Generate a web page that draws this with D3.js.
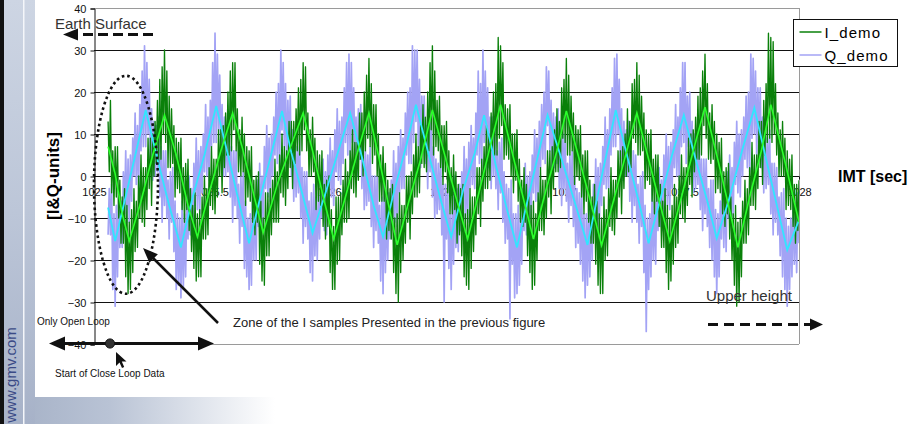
<!DOCTYPE html>
<html>
<head>
<meta charset="utf-8">
<script src="https://cdn.jsdelivr.net/npm/d3@7"></script>
<style>
html, body { margin: 0; padding: 0; background: #fff; }
svg { display: block; font-family: "Liberation Sans", Arial, sans-serif; }
</style>
</head>
<body>
<div id="chart"></div>
<script>
"use strict";

const WIDTH = 916, HEIGHT = 424;

// axis ticks
const X_TICKS = [1025, 1025.5, 1026, 1026.5, 1027, 1027.5, 1028];
const Y_TICKS = [-40, -30, -20, -10, 0, 10, 20, 30, 40];

// raw samples, one every 0.005 s starting at 1025.06
const SAMPLE_START = 1025.06, SAMPLE_STEP = 0.005;

const iDemo = [
  13, 1, 18, -4, 6, -7, 7, -5, 7, -10, -1, -16, -5, -16, -3, -24, -7, -28, -11,
  -27, -8, -23, -3, -18, -6, -17, 0, -10, 5, -11, 2, -12, 2, -8, 9, -3, 9, -7, 10, 0, 13, 3, 18, 3, 23, 4, 26, 10, 30,
  8, 25, 2, 19, 2, 16, 3, 12, -5, 9, -3, 8, -4, 9, -8, 2, -11, 3, -8, 4, -13, -3, -18, -7, -22, -4, -25, -9,
  -24, -8, -24, -5, -15, 0, -15, -3, -14, 2, -7, 7, -8, 4, -9, 4, -5, 11, 0, 11, -4, 12, 2, 15, 5, 20, 5, 25, 6, 27,
  11, 27, 6, 16, 1, 11, 0, 14, 1, 10, -7, 7, -5, 6, -6, 7, -11, -1, -14, 0, -11, 1, -21, -6, -25, -10,
  -26, -4, -19, -4, -19, -3, -14, -1, -11, 4, -11, 1, -11, 5, -4, 10, -5, 7, -7, 6, -3, 13, 2, 13, -3, 13, 3, 16, 6, 21, 5, 23, 6, 27,
  11, 26, 6, 15, 0, 11, 0, 14, 1, 9, -8, 6, -6, 5, -7, 6, -12, -2, -15, -1, -12, 0, -23, -8, -27, -12,
  -27, -5, -21, -5, -20, -4, -14, -1, -11, 4, -11, 1, -10, 6, -3, 11, -4, 8, -5, 8, -1, 15, 4, 15, 0, 20, 6, 24, 9, 28,
  7, 22, 3, 17, 5, 17, 0, 10, -6, 5, -6, 7, -6, 3, -15, -1, -13, -3, -15, -2, -23, -10, -28, -9,
  -30, -4, -23, -7, -20, -7, -16, 0, -11, 0, -15, 1, -9, 5, -5, 10, -5, 7, -4, 12, 3, 17, 2, 14, 1, 20, 6, 27, 11, 31,
  5, 25, 7, 18, 6, 19, 2, 12, -2, 12, 1, 13, -4, 6, -9, 2, -9, 5, -8, 1, -16, -2, -14, -3, -19, -2, -24, -9, -26, -8,
  -27, -3, -22, -5, -18, -5, -14, 2, -9, 2, -12, 4, -6, 7, -3, 12, -3, 10, -1, 15, 6, 20, 5, 22, 5, 33, 9, 31,
  12, 27, 4, 17, 5, 16, 4, 17, 0, 10, -4, 10, -1, 11, -6, 4, -11, -1, -12, 2, -11, -2, -19, -5, -23, -7, -27, -6,
  -26, -9, -20, -4, -13, 2, -13, -1, -14, -1, -10, 6, -5, 6, -9, 7, -3, 11, 1, 16, 1, 13, 2, 21, 9, 23, 8, 28,
  5, 24, 5, 19, 6, 15, -2, 12, 0, 11, -1, 12, -5, 5, -9, 6, -6, 6, -11, -1, -16, -5, -16, -2, -21, -6, -26, -9, -28, -10,
  -28, -5, -20, -8, -19, -3, -12, 2, -13, -1, -14, -1, -10, 6, -5, 6, -9, 7, -3, 10, 0, 16, 1, 13, 2, 22, 9, 23, 8, 27,
  5, 24, 5, 19, 6, 15, -3, 11, -1, 10, -2, 11, -6, 4, -9, 5, -6, 5, -12, -2, -17, -6, -17, -3, -23, -7, -27, -10,
  -25, -7, -21, -2, -17, -5, -16, 0, -9, 5, -10, 2, -11, 2, -7, 9, -2, 10, -5, 11, 1, 14, 4, 19, 4, 21, 5, 25, 12, 29,
  9, 22, 4, 15, 3, 17, 4, 13, -4, 10, -3, 8, -4, 9, -9, 1, -12, 2, -9, 3, -15, -5, -20, -9, -26, -7, -31, -11,
  -30, -10, -24, -6, -16, -1, -16, -3, -14, 2, -7, 8, -7, 5, -8, 5, -3, 13, 2, 13, -2, 18, 5, 22, 8, 34, 9, 33,
  8, 32, 10, 22, 5, 15, 0, 11, 0, 13, 0, 9, -8, 6, -7, 4, -8, 5, -12, -2, -16, -2, -13, -1
];

const qDemo = [
  -14, -3, -14, -2, -27, -9, -31,
  -7, -24, -3, -17, -6, -17, 1, -9, 6, -11, 4, -11, 5, -6, 9, 0, 15, -2, 12, -3, 17, 6, 25, 7, 31, 7,
  27, 10, 23, 4, 16, -1, 13, 0, 12, 1, 14, -5, 7, -11, 6, -7, 6, -10, -1, -15, 1, -11, 2, -18, -6, -27, -9, -26, -10, -29,
  -6, -27, -9, -24, -4, -15, 0, -14, -3, -15, 3, -7, 9, -8, 6, -9, 7, -4, 10, 1, 17, 0, 14, -1, 18, 7, 27, 8, 34, 8,
  29, 11, 24, 5, 17, 0, 14, 0, 12, 1, 14, -5, 7, -11, 6, -7, 6, -10, -2, -16, 0, -12, 1, -22, -6, -24, -10, -27,
  -9, -26, -3, -20, -5, -20, -1, -12, 3, -11, 0, -12, 7, -3, 12, -5, 9, -6, 10, 0, 14, 5, 20, 3, 22, 2, 30, 11,
  27, 7, 22, 2, 18, 6, 19, 0, 11, -6, 8, -5, 7, -4, 9, -10, 2, -16, 1, -12, 1, -15, -6, -23, -4, -25,
  -2, -19, -5, -20, -4, -15, -1, -10, 4, -13, 1, -14, 5, -6, 9, -5, 6, -7, 11, 1, 16, -1, 13, -2, 14, 3, 21, 8, 27, 5, 29, 4,
  27, 8, 21, 5, 14, 0, 16, 4, 17, -3, 9, -8, 6, -7, 5, -6, 7, -12, 0, -17, 0, -13, 0, -16, -7, -25, -5, -28,
  -2, -23, -5, -20, -4, -15, -1, -10, 6, -11, 3, -12, 7, -4, 11, -3, 9, -3, 15, 5, 20, 3, 21, 3, 31, 8, 30, 13,
  30, 7, 23, 2, 19, 6, 19, 3, 12, -3, 13, 1, 14, -5, 7, -10, 4, -9, 3, -8, 5, -14, -2, -30, -2, -15, -2, -22, -9, -27,
  -5, -21, 0, -17, -3, -18, -2, -13, 1, -8, 7, -10, 4, -11, 8, -3, 12, -2, 9, -3, 15, 5, 25, 3, 22, 2, 30, 8,
  25, 8, 21, 2, 14, -3, 14, 0, 13, -3, 6, -8, 8, -4, 9, -11, 1, -16, -2, -15, -3, -34, -1, -21, -9, -29, -9, -28,
  -7, -26, -9, -21, -3, -13, 3, -14, 0, -15, 1, -10, 5, -4, 11, -6, 9, -6, 13, 2, 17, 4, 20, 3, 26, 12,
  25, 6, 18, 1, 15, 2, 14, 3, 16, -3, 10, -7, 10, -3, 10, -6, 3, -11, 5, -7, 6, -12, 0, -17, -3, -16, -4, -21, -2, -25, -9, -29, -9, -26,
  -6, -24, -8, -20, -2, -11, 4, -13, 2, -13, 3, -7, 7, -2, 14, -3, 11, -3, 16, 5, 21, 7, 28, 7,
  29, 10, 23, 4, 16, -1, 13, 0, 11, 0, 13, -6, 6, -11, 6, -7, 5, -11, -2, -16, 0, -12, 1, -23, -7, -37, -10, -27,
  -9, -24, -3, -20, -6, -21, -2, -13, 2, -12, -1, -13, 5, -5, 10, -7, 7, -8, 8, -3, 11, 2, 17, 0, 14, -1, 21, 7, 27, 8,
  27, 3, 19, 7, 20, 1, 13, -4, 10, -3, 9, -2, 11, -8, 4, -13, 4, -9, 4, -12, -3, -17, -1, -20, -1, -24, -8, -28,
  -9, -24, -6, -15, 0, -17, -3, -18, 1, -10, 5, -9, 2, -10, 8, -2, 13, -4, 10, -5, 11, 0, 14, 4, 19, 2, 20, 1, 29, 9, 28, 10,
  25, 5, 21, 8, 21, 2, 14, -4, 10, -3, 9, -2, 11, -9, 3, -14, 3, -11, 2, -14, -5, -19, -4, -24, -3, -27, -10, -31,
  -12, -27, -10, -24, -4, -21, -8, -23, -4, -16
];

// smoothed (averaged) traces
const iAvgTime = [
  1025.06, 1025.09, 1025.12, 1025.15, 1025.20, 1025.25, 1025.30, 1025.35, 1025.40, 1025.44,
  1025.49, 1025.54, 1025.59, 1025.63, 1025.68, 1025.72, 1025.78, 1025.84, 1025.89, 1025.93,
  1025.98, 1026.02, 1026.07, 1026.12, 1026.17, 1026.21, 1026.25, 1026.29, 1026.34, 1026.39,
  1026.44, 1026.49, 1026.54, 1026.59, 1026.64, 1026.69, 1026.73, 1026.78, 1026.83, 1026.87,
  1026.92, 1026.97, 1027.01, 1027.06, 1027.11, 1027.16, 1027.21, 1027.26, 1027.31, 1027.36,
  1027.41, 1027.45, 1027.50, 1027.55, 1027.60, 1027.65, 1027.70, 1027.74, 1027.79, 1027.84,
  1027.88, 1027.94, 1028.00
];
const iAvgVal = [
  7, 0.5, -9, -15.5, -6, 5, 14.5, 5, -7, -14.5,
  -4, 6, 15, 7, -4.5, -13.5, -2, 7.5, 15, 6,
  -6, -15, -5, 5.5, 15, 5, -6, -16.4, -6, 4,
  15.7, 5.5, -5, -15, -3.5, 8, 17, 5.5, -6, -15,
  -4, 6, 15.5, 5, -5.5, -16.5, -6, 4.5, 15, 4,
  -7, -15.5, -5, 6, 16.4, 5, -7, -17, -5, 6,
  17, 3.5, -11
];

const qAvgTime = [
  1025.06, 1025.09, 1025.13, 1025.18, 1025.22, 1025.27, 1025.32, 1025.37, 1025.42, 1025.47,
  1025.52, 1025.57, 1025.62, 1025.66, 1025.71, 1025.76, 1025.80, 1025.84, 1025.89, 1025.93,
  1025.98, 1026.04, 1026.09, 1026.14, 1026.19, 1026.23, 1026.28, 1026.33, 1026.37, 1026.42,
  1026.47, 1026.52, 1026.57, 1026.62, 1026.66, 1026.71, 1026.76, 1026.80, 1026.84, 1026.89,
  1026.93, 1026.99, 1027.05, 1027.10, 1027.14, 1027.18, 1027.22, 1027.27, 1027.32, 1027.36,
  1027.41, 1027.46, 1027.51, 1027.56, 1027.61, 1027.65, 1027.70, 1027.76, 1027.81, 1027.86,
  1027.91, 1027.95, 1028.00
];
const qAvgVal = [
  -7.5, -15.5, -6, 6, 15.7, 4, -7, -17, -5, 5,
  16.7, 5, -7, -16, -4.5, 6.5, 15.5, 5.5, -5, -13.6,
  -5, 6, 15, 4.5, -7, -14.5, -3, 7.5, 17, 6,
  -4.5, -14.5, -3.5, 5.5, 14.5, 2.5, -8.5, -17, -7, 5,
  14.5, 4, -7, -16.4, -5.5, 5, 15.7, 4.5, -6.5, -16,
  -5.5, 5, 14.5, 4, -6, -14.8, -6, 6.5, 16.2, 4,
  -8, -17.6, -10.5
];

const LEGEND = ["I_demo", "Q_demo"];

const COL_I = "#0a800a", COL_Q = "#a3a3f5";
const COL_I_AVG = "#2bff2b", COL_Q_AVG = "#30e6ff";

/////////////////
// Background  //
/////////////////

var svg = d3.select("#chart").append("svg")
  .attr("width", WIDTH)
  .attr("height", HEIGHT);

var defs = svg.append("defs");
var g1 = defs.append("linearGradient").attr("id", "strip")
  .attr("x1", 0).attr("y1", 0).attr("x2", 0).attr("y2", 1);
g1.append("stop").attr("offset", 0).attr("stop-color", "#cdd5e3");
g1.append("stop").attr("offset", 0.5).attr("stop-color", "#bcc6d8");
g1.append("stop").attr("offset", 1).attr("stop-color", "#a7b2c8");
var g2 = defs.append("linearGradient").attr("id", "floor")
  .attr("x1", 0).attr("y1", 0).attr("x2", 1).attr("y2", 0);
g2.append("stop").attr("offset", 0).attr("stop-color", "#a2aec4");
g2.append("stop").attr("offset", 0.12).attr("stop-color", "#b9c3d5");
g2.append("stop").attr("offset", 0.3).attr("stop-color", "#ffffff");

svg.append("rect").attr("x", 0).attr("y", 396).attr("width", WIDTH).attr("height", 28)
  .attr("fill", "url(#floor)");
svg.append("rect").attr("x", 0).attr("y", 0).attr("width", 35).attr("height", HEIGHT)
  .attr("fill", "url(#strip)");
svg.append("rect").attr("x", 0).attr("y", 0).attr("width", 4).attr("height", HEIGHT)
  .attr("fill", "#111");
svg.append("rect").attr("x", 23).attr("y", 0).attr("width", 1.5).attr("height", HEIGHT)
  .attr("fill", "#f4f6fa");
svg.append("rect").attr("x", 35).attr("y", 0).attr("width", WIDTH - 35).attr("height", 397)
  .attr("fill", "#fff");

svg.append("text")
  .attr("transform", "translate(16,375) rotate(-90)")
  .attr("text-anchor", "middle")
  .attr("font-size", 15)
  .attr("fill", "#3b4b86")
  .text("www.gmv.com");

/////////////////
// Plot        //
/////////////////

var x = d3.scaleLinear().domain([1025, 1028]).range([94, 799]);
var y = d3.scaleLinear().domain([-40, 40]).range([344, 8]);

// gridlines
svg.append("g").selectAll("line")
  .data(Y_TICKS)
  .join("line")
  .attr("x1", x(1025)).attr("x2", x(1028))
  .attr("y1", d => Math.round(y(d)) + 0.5).attr("y2", d => Math.round(y(d)) + 0.5)
  .attr("stroke", d => Math.abs(d) === 40 ? "#9a9a9a" : "#111")
  .attr("stroke-width", 1);
svg.append("line")
  .attr("x1", Math.round(x(1028)) + 0.5).attr("x2", Math.round(x(1028)) + 0.5)
  .attr("y1", y(40)).attr("y2", y(-40))
  .attr("stroke", "#9a9a9a");

var yAxis = svg.append("g")
  .attr("transform", "translate(" + (Math.round(x(1025)) + 0.5) + ",0.5)")
  .call(d3.axisLeft(y).tickValues(Y_TICKS).tickSize(4).tickPadding(4).tickFormat(d3.format("d")));
yAxis.select(".domain").attr("stroke", "#111");
yAxis.selectAll(".tick line").attr("stroke", "#111");
yAxis.selectAll("text").attr("font-size", 11).attr("fill", "#111")
  .style("font-family", "'Liberation Sans', Arial, sans-serif");

var xAxis = svg.append("g")
  .attr("transform", "translate(0," + (Math.round(y(0)) + 0.5) + ")")
  .call(d3.axisBottom(x).tickValues(X_TICKS).tickSize(3).tickPadding(9).tickFormat(d => String(d)));
xAxis.select(".domain").remove();
xAxis.selectAll(".tick line").attr("stroke", "#111");
xAxis.selectAll("text").attr("font-size", 11).attr("fill", "#111")
  .style("font-family", "'Liberation Sans', Arial, sans-serif");

defs.append("clipPath").attr("id", "plotclip")
  .append("rect").attr("x", x(1025)).attr("y", y(40))
  .attr("width", x(1028) - x(1025)).attr("height", y(-40) - y(40));

var plot = svg.append("g").attr("clip-path", "url(#plotclip)");

var rawLine = d3.line()
  .x((d, i) => x(SAMPLE_START + i * SAMPLE_STEP))
  .y(d => y(d));
var avgLine = d3.line()
  .x(d => x(d[0]))
  .y(d => y(d[1]));

plot.append("path")
  .datum(qDemo)
  .attr("fill", "none")
  .attr("stroke", COL_Q)
  .attr("stroke-width", 1.7)
  .attr("stroke-linejoin", "round")
  .attr("d", rawLine);

plot.append("path")
  .datum(iDemo)
  .attr("fill", "none")
  .attr("stroke", COL_I)
  .attr("stroke-width", 1.35)
  .attr("stroke-linejoin", "round")
  .attr("d", rawLine);

plot.append("path")
  .datum(d3.zip(qAvgTime, qAvgVal))
  .attr("fill", "none")
  .attr("stroke", COL_Q_AVG)
  .attr("stroke-width", 1.8)
  .attr("d", avgLine);

plot.append("path")
  .datum(d3.zip(iAvgTime, iAvgVal))
  .attr("fill", "none")
  .attr("stroke", COL_I_AVG)
  .attr("stroke-width", 1.6)
  .attr("d", avgLine);

/////////////////
// Titles      //
/////////////////

svg.append("text")
  .attr("transform", "translate(59," + y(0) + ") rotate(-90)")
  .attr("text-anchor", "middle")
  .attr("font-size", 17)
  .attr("font-weight", "bold")
  .attr("fill", "#000")
  .text("[I&Q-units]");

svg.append("text")
  .attr("x", 838).attr("y", 182)
  .attr("font-size", 16)
  .attr("font-weight", "bold")
  .attr("fill", "#000")
  .text("IMT [sec]");

/////////////////
// Annotations //
/////////////////

function arrowHead(g, tx, ty, angle, len, half) {
  var c = Math.cos(angle), s = Math.sin(angle);
  var bx = tx - c * len, by = ty - s * len;
  g.append("polygon")
    .attr("points", [
      [tx, ty],
      [bx - s * half, by + c * half],
      [bx + s * half, by - c * half]
    ].map(p => p.join(",")).join(" "))
    .attr("fill", "#111");
}

var ann = svg.append("g");

// Earth surface
ann.append("text").attr("x", 55).attr("y", 29)
  .attr("font-size", 15).attr("fill", "#333").text("Earth Surface");
ann.append("line").attr("x1", 153).attr("x2", 78).attr("y1", 34.5).attr("y2", 34.5)
  .attr("stroke", "#111").attr("stroke-width", 3).attr("stroke-dasharray", "10,5");
arrowHead(ann, 63, 34.5, Math.PI, 15, 6);

// dotted zone around first samples
ann.append("ellipse")
  .attr("cx", x(1025.136)).attr("cy", y(-2.1))
  .attr("rx", 32).attr("ry", 109)
  .attr("fill", "none").attr("stroke", "#111")
  .attr("stroke-width", 2.6).attr("stroke-dasharray", "2.6,3");

// pointer arrow
ann.append("line").attr("x1", 218).attr("y1", 323).attr("x2", 152).attr("y2", 257)
  .attr("stroke", "#111").attr("stroke-width", 2.5);
arrowHead(ann, 143, 248, Math.atan2(-75, -75), 15, 6);
ann.append("text").attr("x", 233).attr("y", 327)
  .attr("font-size", 13).attr("fill", "#222")
  .text("Zone of the I samples Presented in the previous figure");

// open / close loop marker
ann.append("text").attr("x", 37).attr("y", 325)
  .attr("font-size", 10).attr("fill", "#111").text("Only Open Loop");
ann.append("line").attr("x1", 60).attr("x2", 204).attr("y1", 343.5).attr("y2", 343.5)
  .attr("stroke", "#111").attr("stroke-width", 3);
arrowHead(ann, 49, 343.5, Math.PI, 16, 7);
arrowHead(ann, 214, 343.5, 0, 16, 7);
ann.append("circle").attr("cx", 110).attr("cy", 343.5).attr("r", 4.6)
  .attr("fill", "#333").attr("stroke", "#111");
ann.append("path")
  .attr("d", "M116,352 L116,366 L119.5,362.5 L122,368 L124.2,367 L121.8,361.6 L126.5,361.6 Z")
  .attr("fill", "#111");
ann.append("text").attr("x", 55).attr("y", 377)
  .attr("font-size", 10).attr("fill", "#111").text("Start of Close Loop Data");

// upper height
ann.append("text").attr("x", 706).attr("y", 301)
  .attr("font-size", 15).attr("fill", "#333").text("Upper height");
ann.append("line").attr("x1", 708).attr("x2", 810).attr("y1", 324.5).attr("y2", 324.5)
  .attr("stroke", "#111").attr("stroke-width", 3).attr("stroke-dasharray", "10,6");
arrowHead(ann, 823, 324.5, 0, 13, 6);

/////////////////
// Legend      //
/////////////////

var legend = svg.append("g").attr("transform", "translate(793.5,19.5)");
legend.append("rect").attr("width", 104).attr("height", 47)
  .attr("fill", "#fff").attr("stroke", "#111");
var items = legend.selectAll("g.item")
  .data(LEGEND)
  .join("g")
  .attr("class", "item")
  .attr("transform", (d, i) => "translate(0," + (12.5 + i * 23) + ")");
items.append("line")
  .attr("x1", 6).attr("x2", 28)
  .attr("stroke", (d, i) => i === 0 ? COL_I : COL_Q)
  .attr("stroke-width", 1.5);
items.append("text")
  .attr("x", 31).attr("y", 5.5)
  .attr("font-size", 15)
  .attr("letter-spacing", 1.1)
  .attr("fill", "#000")
  .text(d => d);
</script>
</body>
</html>
